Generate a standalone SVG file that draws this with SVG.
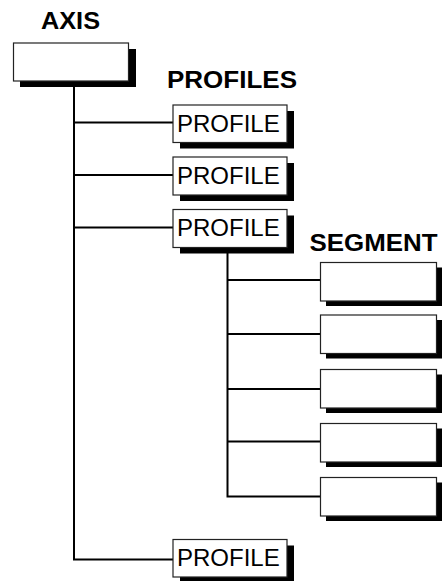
<svg xmlns="http://www.w3.org/2000/svg" width="446" height="581" viewBox="0 0 446 581">
<style>
.shadow{fill:#000}
.box{fill:#fff;stroke:#222;stroke-width:1.2}
.title{font-family:"Liberation Sans",Arial,sans-serif;font-weight:bold;font-size:24px;fill:#000}
.lbl{font-family:"Liberation Sans",Arial,sans-serif;font-size:24px;fill:#000}
.conn{fill:none;stroke:#000;stroke-width:2}
</style>
<rect width="446" height="581" fill="#fff"/>
<text class="title" x="41" y="29" textLength="59" lengthAdjust="spacingAndGlyphs">AXIS</text>
<text class="title" x="167" y="88" textLength="130" lengthAdjust="spacingAndGlyphs">PROFILES</text>
<text class="title" x="309.5" y="250.5" textLength="128" lengthAdjust="spacingAndGlyphs">SEGMENT</text>
<g id="connectors">
<path class="conn" d="M74 81V559.5H173"/>
<path class="conn" d="M74 122.5H173M74 175H173M74 227.5H173"/>
<path class="conn" d="M227.5 248V496.5H320.5"/>
<path class="conn" d="M227.5 280H320.5M227.5 334H320.5M227.5 389H320.5M227.5 441.5H320.5"/>
</g>
<g id="axis">
<rect class="shadow" x="20" y="49" width="116" height="38"/>
<rect class="box" x="13.5" y="43" width="115" height="38"/>
</g>
<g id="profile1">
<rect class="shadow" x="180" y="111" width="114" height="37.5"/>
<rect class="box" x="173" y="105" width="114" height="37.5"/>
<text class="lbl" x="177" y="131.5">PROFILE</text>
</g>
<g id="profile2">
<rect class="shadow" x="180" y="163" width="114" height="38"/>
<rect class="box" x="173" y="157" width="114" height="38"/>
<text class="lbl" x="177" y="183.5">PROFILE</text>
</g>
<g id="profile3">
<rect class="shadow" x="180" y="215.5" width="114" height="38"/>
<rect class="box" x="173" y="209.5" width="114" height="38"/>
<text class="lbl" x="177" y="236">PROFILE</text>
</g>
<g id="profile4">
<rect class="shadow" x="180" y="545.5" width="114" height="37.5"/>
<rect class="box" x="173" y="539.5" width="114" height="37.5"/>
<text class="lbl" x="177" y="566">PROFILE</text>
</g>
<g id="segment1">
<rect class="shadow" x="326" y="267.5" width="116" height="38.5"/>
<rect class="box" x="320.5" y="262.5" width="116" height="38.5"/>
</g>
<g id="segment2">
<rect class="shadow" x="326" y="320" width="116" height="38.5"/>
<rect class="box" x="320.5" y="315" width="116" height="38.5"/>
</g>
<g id="segment3">
<rect class="shadow" x="326" y="374.5" width="116" height="38.5"/>
<rect class="box" x="320.5" y="369.5" width="116" height="38.5"/>
</g>
<g id="segment4">
<rect class="shadow" x="326" y="428.5" width="116" height="38.5"/>
<rect class="box" x="320.5" y="423.5" width="116" height="38.5"/>
</g>
<g id="segment5">
<rect class="shadow" x="326" y="482.5" width="116" height="38.5"/>
<rect class="box" x="320.5" y="477.5" width="116" height="38.5"/>
</g>
</svg>
